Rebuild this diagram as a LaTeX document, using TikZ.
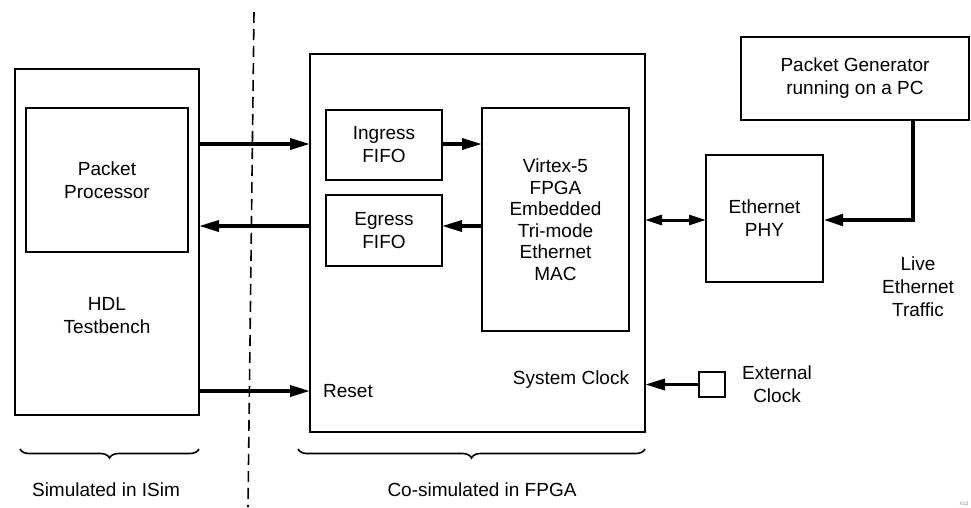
\documentclass[tikz,border=0pt]{standalone}
\usepackage{fontspec}
\setmainfont{Liberation Sans}
\usetikzlibrary{arrows.meta,decorations.pathreplacing}
\newcommand{\lblfont}{\fontsize{19}{23}\selectfont}
\begin{document}
\begin{tikzpicture}[x=1pt,y=-1pt,
  box/.style={draw, line width=1.6pt, inner sep=0pt, outer sep=0pt, align=center, font=\lblfont},
  txt/.style={inner sep=0pt, align=center, font=\lblfont},
  arr/.style={line width=3.5pt, -{Triangle[length=20pt,width=11pt]}},
  dbl/.style={line width=3pt, {Triangle[length=17pt,width=10pt]}-{Triangle[length=17pt,width=10pt]}},
  divider/.style={line width=1.6pt, dash pattern=on 11pt off 6pt},
  curly/.style={decorate, decoration={brace,mirror,amplitude=9pt}, line width=1.6pt}]
\useasboundingbox (0,0) rectangle (971,507);

% testbench side
\node[box, minimum width=184pt, minimum height=346pt] (tb) at (107,242) {};
\node[box, minimum width=162pt, minimum height=144pt] (pp) at (107,180) {Packet\\Processor};
\node[txt] (tbl) at (107,316) {HDL\\Testbench};

% FPGA side
\node[box, minimum width=335pt, minimum height=378pt] (fpga) at (477.5,243) {};
\node[box, minimum width=116pt, minimum height=70pt] (ing) at (384,145) {Ingress\\FIFO};
\node[box, minimum width=116pt, minimum height=71pt] (egr) at (384,230.5) {Egress\\FIFO};
\node[box, minimum width=147pt, minimum height=223pt, font=\fontsize{19}{21.5}\selectfont] (mac) at (555.5,219.5)
  {Virtex-5\\FPGA\\Embedded\\Tri-mode\\Ethernet\\MAC};
\node[txt] (reset) at (348,391) {Reset};
\node[txt] (sysclk) at (571,380) {System Clock};

% external parts
\node[box, minimum width=117pt, minimum height=127pt] (phy) at (764.5,218.5) {Ethernet\\PHY};
\node[box, minimum width=228pt, minimum height=83pt] (gen) at (855,78.5) {Packet Generator\\running on a PC};
\node[box, minimum width=26pt, minimum height=25pt] (clk) at (712,384.5) {};
\node[txt] (extclk) at (777,384) {External\\Clock};
\node[txt] (live) at (918,287) {Live\\Ethernet\\Traffic};

% signal rows
\coordinate (rowin) at (0,144);
\coordinate (rowout) at (0,226);
\coordinate (rowrst) at (0,391);
\coordinate (rowphy) at (0,220);
\coordinate (bend) at (913,220);

\draw[arr] (tb.east |- rowin) -- (fpga.west |- rowin);
\draw[arr] (fpga.west |- rowout) -- (tb.east |- rowout);
\draw[arr] (tb.east |- rowrst) -- (fpga.west |- rowrst);
\draw[arr] (ing.east |- rowin) -- (mac.west |- rowin);
\draw[arr] (mac.west |- rowout) -- (egr.east |- rowout);
\draw[dbl] (fpga.east |- rowphy) -- (phy.west |- rowphy);
\draw[arr] (clk.west) -- (fpga.east |- clk.west);
\draw[arr, line width=4.5pt, line join=miter] (gen.south -| bend) -- (bend) -- (phy.east |- bend);

% simulation boundary
\coordinate (divtop) at (254,12);
\coordinate (divbot) at (248,507);
\draw[divider] (divtop) -- (divbot);

% domain braces
\coordinate (b1l) at (20,449);
\coordinate (b1r) at (199,449);
\coordinate (b2l) at (298,449);
\coordinate (b2r) at (645,449);
\draw[curly] (b1l) -- (b1r);
\draw[curly] (b2l) -- (b2r);
\node[txt] (sim) at (106,490) {Simulated in ISim};
\node[txt] (cosim) at (482,490) {Co-simulated in FPGA};

\node[inner sep=0pt, font=\fontsize{5}{6}\selectfont, text=gray] (tag) at (964,504) {X12};
\end{tikzpicture}
\end{document}
